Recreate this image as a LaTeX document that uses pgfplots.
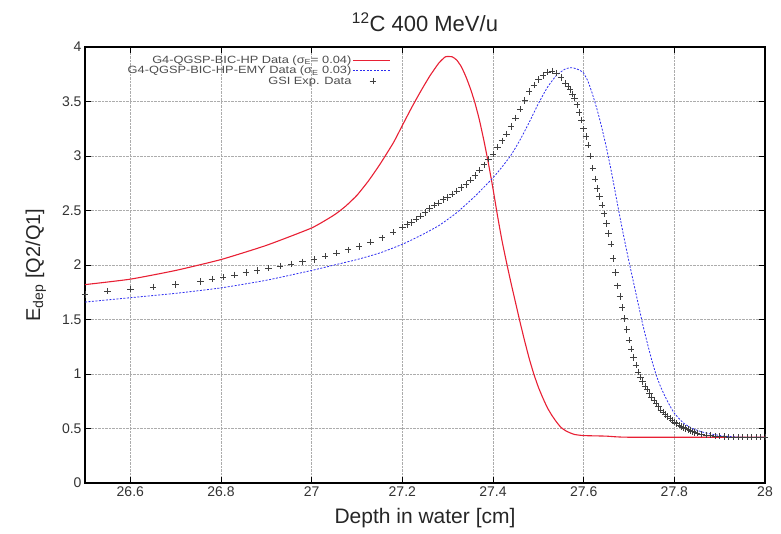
\documentclass[border=0pt]{standalone}
\usepackage{fontspec}
\setmainfont{Liberation Sans}
\newfontfamily\legfont[FakeStretch=1.22]{Liberation Sans}
\usepackage{pgfplots}
\pgfplotsset{compat=1.18}
\definecolor{g4red}{RGB}{232,32,52}
\definecolor{g4blue}{RGB}{45,45,240}
\pgfplotsset{markleg/.style={legend image code/.code={\path[draw=none] (0cm,0cm) (1.3cm,0cm); \draw[##1] plot coordinates {(0.7cm,0cm)};}}}
\begin{document}
\begin{tikzpicture}
\useasboundingbox (-85pt,-50pt) rectangle (696pt,483pt);
\begin{axis}[
  at={(0,0)}, anchor=south west,
  scale only axis, width=680pt, height=436pt,
  xmin=26.5, xmax=28, ymin=0, ymax=4,
  xtick={26.6,26.8,27,27.2,27.4,27.6,27.8,28},
  xticklabels={26.6,26.8,27,27.2,27.4,27.6,27.8,28},
  ytick={0,0.5,1,1.5,2,2.5,3,3.5,4},
  yticklabels={0,0.5,1,1.5,2,2.5,3,3.5,4},
  grid=major,
  major grid style={gray!65, densely dotted, line width=0.5pt},
  tick style={black, line width=0.8pt},
  major tick length=6pt,
  axis line style={line width=1.2pt},
  tick label style={font=\fontsize{14}{16}\selectfont, text=black!80},
  /pgf/number format/assume math mode=true,
  xlabel={Depth in water [cm]},
  ylabel={E\textsubscript{dep} [Q2/Q1]},
  xlabel style={font=\fontsize{21}{24}\selectfont, text=black!85, yshift=-5pt},
  ylabel style={font=\fontsize{20}{23}\selectfont, text=black!85, at={(ticklabel cs:0.5,9pt)}},
  title={\textsuperscript{12}C 400 MeV/u},
  title style={font=\fontsize{22}{25}\selectfont, text=black!85, yshift=6pt},
  legend plot pos=right,
  legend cell align=right,
  legend style={draw=none, fill=none, at={(0.451,0.985)}, anchor=north east,
    font=\legfont\fontsize{10.5}{11}\selectfont, text=black!70, row sep=-0.6pt, inner sep=1pt,
    nodes={inner sep=1pt}},
  legend image code/.code={\draw[#1] (0cm,0cm) -- (1.3cm,0cm);},
]
\addplot[g4red, line width=1.1pt, smooth, tension=0.3] table {
26.50 1.82
26.60 1.87
26.70 1.95
26.80 2.05
26.90 2.18
27.00 2.34
27.05 2.46
27.075 2.54
27.10 2.64
27.125 2.77
27.15 2.92
27.18 3.12
27.20 3.28
27.22 3.44
27.24 3.59
27.26 3.73
27.28 3.85
27.295 3.91
27.31 3.91
27.32 3.88
27.33 3.82
27.34 3.73
27.35 3.62
27.36 3.49
27.37 3.33
27.38 3.14
27.39 2.93
27.40 2.70
27.41 2.45
27.42 2.22
27.43 2.02
27.44 1.83
27.45 1.65
27.46 1.47
27.47 1.30
27.48 1.14
27.49 1.00
27.50 0.88
27.51 0.78
27.52 0.69
27.53 0.62
27.54 0.56
27.55 0.51
27.56 0.48
27.57 0.46
27.58 0.445
27.60 0.435
27.65 0.43
27.70 0.42
28.00 0.42
};
\addlegendentry{G4-QGSP-BIC-HP Data (σ\textsubscript{E}= 0.04)}
\addplot[g4blue, line width=0.8pt, dash pattern=on 2pt off 1.5pt, smooth, tension=0.3] table {
26.50 1.66
26.60 1.70
26.70 1.74
26.80 1.79
26.90 1.86
27.00 1.95
27.05 2.00
27.10 2.05
27.15 2.11
27.20 2.19
27.24 2.27
27.28 2.36
27.32 2.48
27.36 2.63
27.40 2.80
27.42 2.90
27.44 3.01
27.46 3.15
27.48 3.31
27.50 3.48
27.52 3.63
27.54 3.74
27.56 3.80
27.575 3.81
27.59 3.79
27.60 3.76
27.61 3.68
27.62 3.56
27.63 3.42
27.64 3.26
27.65 3.08
27.66 2.88
27.67 2.66
27.68 2.44
27.69 2.23
27.70 2.03
27.71 1.84
27.72 1.65
27.73 1.46
27.74 1.29
27.75 1.13
27.76 0.99
27.77 0.88
27.78 0.79
27.79 0.71
27.80 0.64
27.82 0.55
27.84 0.50
27.86 0.47
27.88 0.45
27.91 0.43
27.95 0.42
28.00 0.42
};
\addlegendentry{G4-QGSP-BIC-HP-EMY Data (σ\textsubscript{E} 0.03)}
\addplot[only marks, mark=+, mark size=3.2pt, black!75, mark options={line width=0.6pt}, markleg] table {
26.50 1.73
26.55 1.76
26.60 1.78
26.65 1.80
26.70 1.82
26.755 1.85
26.78 1.87
26.805 1.89
26.83 1.91
26.855 1.93
26.88 1.95
26.905 1.97
26.93 1.99
26.955 2.01
26.98 2.03
27.005 2.05
27.03 2.08
27.055 2.11
27.08 2.14
27.105 2.17
27.13 2.21
27.155 2.25
27.18 2.30
27.20 2.35
27.21 2.37
27.22 2.39
27.23 2.42
27.24 2.45
27.25 2.48
27.26 2.52
27.27 2.55
27.28 2.57
27.29 2.60
27.30 2.62
27.31 2.65
27.32 2.68
27.33 2.71
27.34 2.74
27.35 2.78
27.36 2.82
27.37 2.87
27.38 2.92
27.39 2.97
27.40 3.02
27.41 3.08
27.42 3.14
27.43 3.20
27.44 3.27
27.45 3.35
27.46 3.43
27.47 3.51
27.48 3.59
27.49 3.65
27.50 3.70
27.51 3.74
27.52 3.77
27.53 3.78
27.54 3.76
27.55 3.72
27.56 3.67
27.565 3.64
27.570 3.61
27.575 3.57
27.580 3.53
27.585 3.47
27.590 3.40
27.595 3.33
27.600 3.25
27.605 3.18
27.610 3.10
27.615 3.00
27.620 2.89
27.625 2.79
27.630 2.70
27.635 2.63
27.640 2.55
27.645 2.47
27.650 2.38
27.655 2.29
27.660 2.19
27.665 2.06
27.670 1.93
27.675 1.81
27.680 1.71
27.685 1.61
27.690 1.51
27.695 1.41
27.700 1.31
27.705 1.23
27.710 1.15
27.715 1.08
27.720 1.02
27.725 0.97
27.730 0.93
27.735 0.89
27.740 0.86
27.745 0.82
27.750 0.79
27.755 0.76
27.760 0.73
27.765 0.70
27.770 0.67
27.775 0.65
27.780 0.63
27.785 0.61
27.790 0.59
27.795 0.575
27.800 0.56
27.805 0.545
27.810 0.53
27.815 0.52
27.820 0.51
27.825 0.50
27.830 0.49
27.835 0.48
27.840 0.47
27.845 0.465
27.850 0.46
27.86 0.45
27.87 0.44
27.88 0.44
27.89 0.43
27.90 0.43
27.91 0.425
27.92 0.42
27.93 0.42
27.94 0.42
27.95 0.42
27.96 0.42
27.97 0.42
27.98 0.42
27.99 0.42
28.00 0.42
};
\addlegendentry{GSI Exp. Data}
\end{axis}
\end{tikzpicture}
\end{document}
